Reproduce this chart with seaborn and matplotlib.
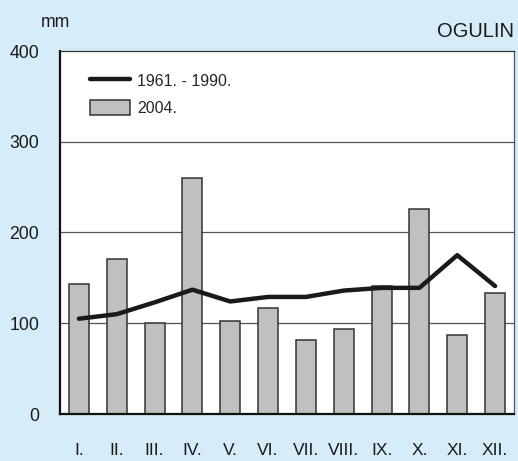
import matplotlib
matplotlib.use('Agg')
import matplotlib.pyplot as plt
import seaborn as sns
import pandas as pd
import numpy as np
from matplotlib.lines import Line2D
from matplotlib.patches import Patch

sns.set_theme(style='white')
plt.rcParams['font.family'] = ['Liberation Sans', 'DejaVu Sans']

months = ['I.', 'II.', 'III.', 'IV.', 'V.', 'VI.', 'VII.', 'VIII.', 'IX.', 'X.', 'XI.', 'XII.']
rain_2004 = [143, 171, 100, 260, 103, 117, 82, 94, 141, 226, 87, 133]
rain_1961_1990 = [105, 110, 123, 137, 124, 129, 129, 136, 139, 139, 175, 141]
y_ticks = [0, 100, 200, 300, 400]

df = pd.DataFrame({'month': months, 'rain_2004': rain_2004, 'norm': rain_1961_1990})
df['pos'] = np.arange(len(months))

bg = '#d6ecf8'
fig = plt.figure(figsize=(5.18, 4.61), dpi=100, facecolor=bg)
ax = fig.add_axes([60/518, 47/461, 454/518, 363/461])
ax.set_facecolor('white')

# bars for 2004
sns.barplot(data=df, x='month', y='rain_2004', color='#c0c0c0', width=0.53,
            edgecolor='#333333', linewidth=1.1, saturation=1, ax=ax, zorder=3)
# long term average line
sns.lineplot(data=df, x='pos', y='norm', color='#1a1a1a', linewidth=3.2, ax=ax, zorder=4)

ax.set_xlim(-0.5, 11.5)
ax.set_ylim(0, 400)
ax.set_yticks(y_ticks)
ax.set_yticklabels([str(v) for v in y_ticks])
ax.set_xticks(df['pos'])
ax.set_xticklabels(months)
ax.set_xlabel('')
ax.set_ylabel('')
ax.tick_params(axis='y', length=0, pad=15, labelsize=12.7, colors='#1a1a1a')
ax.tick_params(axis='x', length=0, pad=21, labelsize=12.5, colors='#1a1a1a')
for v in y_ticks[1:4]:
    ax.axhline(v, color='#555555', linewidth=0.9, zorder=1)

ax.spines['left'].set_linewidth(1.6)
ax.spines['bottom'].set_linewidth(1.6)
ax.spines['left'].set_color('#111111')
ax.spines['bottom'].set_color('#111111')
ax.spines['top'].set_linewidth(0.9)
ax.spines['right'].set_linewidth(0.9)
ax.spines['top'].set_color('#333333')
ax.spines['right'].set_color('#555555')
for s in ax.spines.values():
    s.set_zorder(5)

handles = [Line2D([0], [0], color='#1a1a1a', linewidth=3.2),
           Patch(facecolor='#c0c0c0', edgecolor='#333333', linewidth=1.1)]
ax.legend(handles, ['1961. - 1990.', '2004.'], loc='upper left',
          bbox_to_anchor=(30/454, 1 - 22/363), frameon=False, fontsize=11.5,
          handlelength=2.5, handleheight=1.05, handletextpad=0.45,
          labelspacing=0.72, borderpad=0, borderaxespad=0)

fig.text(40.7/518, 1 - 26.7/461, 'mm', fontsize=12.7, va='baseline', ha='left', color='#1a1a1a')
fig.text(514/518, 1 - 36.7/461, 'OGULIN', fontsize=14.5, va='baseline', ha='right', color='#1a1a1a')

fig.savefig('out.png', dpi=100, facecolor=bg)
